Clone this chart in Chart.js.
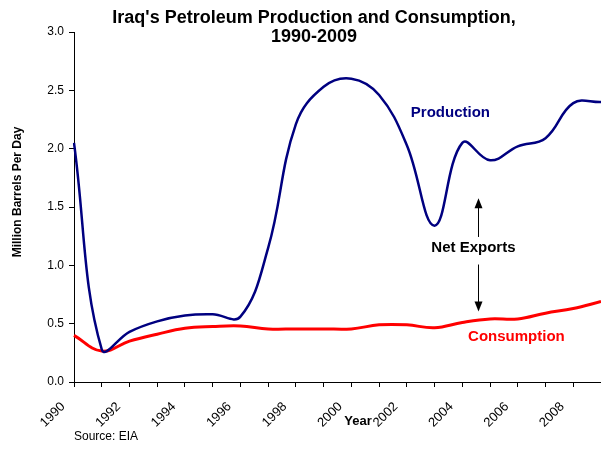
<!DOCTYPE html>
<html lang="en">
<head>
<meta charset="UTF-8">
<title>Iraq's Petroleum Production and Consumption, 1990-2009</title>
<style>
    body {
        margin: 0;
        padding: 0;
        background-color: #fff;
    }
    .chart-box {
        width: 601px;
        height: 473px;
    }
</style>
<script src="https://cdn.jsdelivr.net/npm/chart.js"></script>
</head>
<body>
<div class="chart-box">
    <canvas id="oilChart" width="601" height="473"></canvas>
</div>
<script>
    // Annual values, million barrels per day
    const years = ['1990', '1991', '1992', '1993', '1994', '1995', '1996', '1997', '1998', '1999',
                   '2000', '2001', '2002', '2003', '2004', '2005', '2006', '2007', '2008', '2009'];
    const production = [2.05, 0.28, 0.43, 0.52, 0.57, 0.58, 0.56, 1.15, 2.21, 2.53,
                        2.60, 2.46, 2.03, 1.34, 2.05, 1.90, 2.02, 2.09, 2.39, 2.40];
    const consumption = [0.40, 0.265, 0.35, 0.41, 0.46, 0.475, 0.48, 0.455, 0.455, 0.455,
                         0.455, 0.49, 0.49, 0.465, 0.51, 0.54, 0.54, 0.59, 0.63, 0.69];
    const yTicks = [0, 0.5, 1.0, 1.5, 2.0, 2.5, 3.0];

    const titleLines = ["Iraq's Petroleum Production and Consumption,", '1990-2009'];
    const yTitle = 'Million Barrels Per Day';
    const xTitle = 'Year';
    const sourceNote = 'Source: EIA';

    // text labels placed in data units (year index, value)
    const notes = [
        { text: 'Production', at: [13.57, 2.31], color: '#000080' },
        { text: 'Consumption', at: [15.95, 0.385], color: '#ff0000' },
        { text: 'Net Exports', at: [14.4, 1.147], color: '#000000' }
    ];
    // arrow from/to in data units
    const arrows = [
        { x: 14.58, from: 1.243, to: 1.576 },
        { x: 14.58, from: 1.007, to: 0.604 }
    ];

    const FONT = "Arial, 'Liberation Sans', sans-serif";

    const textPlugin = {
        id: 'textPlugin',
        afterDraw(chart) {
            const ctx = chart.ctx;
            const xs = chart.scales.x;
            const ys = chart.scales.y;
            ctx.save();
            ctx.fillStyle = '#000';
            ctx.textAlign = 'center';
            ctx.textBaseline = 'middle';

            ctx.font = 'bold 18px ' + FONT;
            ctx.fillText(titleLines[0], 314, 18);
            ctx.fillText(titleLines[1], 314, 37);

            ctx.font = 'bold 13px ' + FONT;
            ctx.fillText(xTitle, 358, 421);

            ctx.font = 'bold 12px ' + FONT;
            ctx.save();
            ctx.translate(18, 192);
            ctx.rotate(-Math.PI / 2);
            ctx.fillText(yTitle, 0, 0);
            ctx.restore();

            ctx.font = '12px ' + FONT;
            ctx.textAlign = 'left';
            ctx.fillText(sourceNote, 74, 437);

            ctx.textAlign = 'center';
            ctx.font = 'bold 15px ' + FONT;
            notes.forEach(n => {
                ctx.fillStyle = n.color;
                ctx.fillText(n.text, xs.getPixelForValue(n.at[0]), ys.getPixelForValue(n.at[1]));
            });

            ctx.strokeStyle = '#000';
            ctx.fillStyle = '#000';
            ctx.lineWidth = 1;
            arrows.forEach(a => {
                const x = Math.round(xs.getPixelForValue(a.x)) + 0.5;
                const y0 = ys.getPixelForValue(a.from);
                const y1 = ys.getPixelForValue(a.to);
                const dir = y1 < y0 ? -1 : 1;
                ctx.beginPath();
                ctx.moveTo(x, y0);
                ctx.lineTo(x, y1 - dir * 8);
                ctx.stroke();
                ctx.beginPath();
                ctx.moveTo(x, y1);
                ctx.lineTo(x - 4, y1 - dir * 10);
                ctx.lineTo(x + 4, y1 - dir * 10);
                ctx.closePath();
                ctx.fill();
            });
            ctx.restore();
        }
    };

    new Chart(document.getElementById('oilChart'), {
        type: 'line',
        data: {
            labels: years,
            datasets: [{
                label: 'Production',
                data: production,
                borderColor: '#000080',
                borderWidth: 2.5,
                pointRadius: 0,
                tension: 0.4,
                fill: false
            }, {
                label: 'Consumption',
                data: consumption,
                borderColor: '#ff0000',
                borderWidth: 3,
                pointRadius: 0,
                tension: 0.4,
                fill: false
            }]
        },
        options: {
            responsive: false,
            animation: false,
            layout: { padding: { top: 32, left: 0, right: 0, bottom: 0 } },
            plugins: {
                legend: { display: false },
                tooltip: { enabled: false }
            },
            scales: {
                x: {
                    offset: false,
                    grid: { drawOnChartArea: false, tickLength: 5, tickColor: '#000' },
                    border: { color: '#000', width: 1 },
                    ticks: {
                        autoSkip: false,
                        minRotation: 45,
                        maxRotation: 45,
                        padding: 12,
                        labelOffset: -11,
                        color: '#000',
                        font: { family: FONT, size: 13 },
                        callback: (v, i) => (i % 2 === 0 ? years[i] : '')
                    },
                    afterFit: s => {
                        s.height = 91;
                        s.paddingLeft = 0;
                        s.paddingRight = 0;
                    }
                },
                y: {
                    min: 0,
                    max: 3,
                    grid: { drawOnChartArea: false, tickLength: 5, tickColor: '#000' },
                    border: { color: '#000', width: 1 },
                    afterBuildTicks: s => { s.ticks = yTicks.map(v => ({ value: v })); },
                    ticks: {
                        padding: 5,
                        color: '#000',
                        font: { family: FONT, size: 12 },
                        callback: v => v.toFixed(1)
                    },
                    afterFit: s => { s.width = 74; }
                }
            }
        },
        plugins: [textPlugin]
    });
</script>
</body>
</html>
